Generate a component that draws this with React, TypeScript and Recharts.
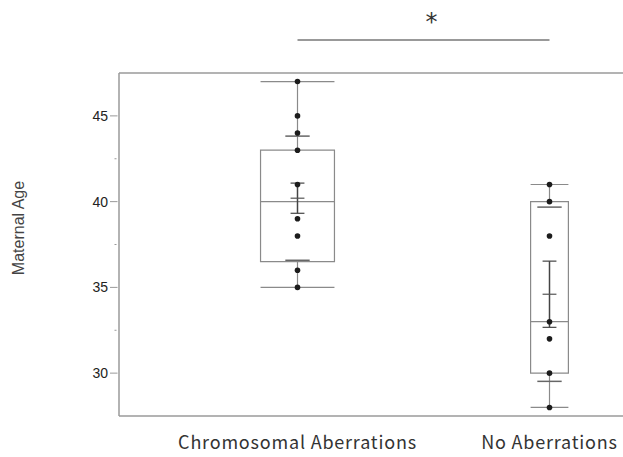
import {
  ComposedChart,
  XAxis,
  YAxis,
  Scatter,
  ReferenceArea,
  ReferenceLine,
  Label,
} from "recharts";

const groups = ["Chromosomal Aberrations", "No Aberrations"];
const groupCounts = [17, 7];

const minVals = [35, 28];
const q1Vals = [36.5, 30];
const medianVals = [40, 33];
const q3Vals = [43, 40];
const maxVals = [47, 41];
const meanVals = [40.2, 34.6];
const sdVals = [3.62, 5.08];
const seVals = [0.88, 1.93];

const chromosomalAges = [47, 45, 44, 43, 41, 39, 38, 36, 35];
const noAberrationAges = [41, 40, 38, 33, 32, 30, 28];

const yTicks = [30, 32.5, 35, 37.5, 40, 42.5, 45];
const majorTicks = [30, 35, 40, 45];

const totalCount = groupCounts.reduce((a, b) => a + b, 0);
// JMP-style: each group gets a band proportional to its count
const centers = groupCounts.map(
  (n, i) => groupCounts.slice(0, i).reduce((a, b) => a + b, 0) + n / 2
);

const boxHalf = [1.76, 0.9];
const sdHalf = 0.58;
const meanHalf = 0.33;

const pointSets = [chromosomalAges, noAberrationAges].map((vals, i) =>
  vals.map((v) => ({ x: centers[i], y: v }))
);

const boxStroke = "#8a8a8a";
const axisStroke = "#9a9a9a";

function YTick(props: any) {
  const { x, y, payload } = props;
  const major = majorTicks.includes(payload.value);
  return (
    <g>
      <line
        x1={major ? x - 1 : x + 3.5}
        x2={major ? x + 6.5 : x + 5.5}
        y1={y}
        y2={y}
        stroke="#999"
        strokeWidth={1}
      />
      {major && (
        <text
          x={x - 3}
          y={y}
          dy={5}
          textAnchor="end"
          fontFamily="'Liberation Sans', Arial, sans-serif"
          fontSize={14}
          fill="#222"
        >
          {payload.value}
        </text>
      )}
    </g>
  );
}

function Dot(props: any) {
  const { cx, cy } = props;
  return <circle cx={cx} cy={cy} r={2.8} fill="#1c1c1c" />;
}

function seg(x1: number, y1: number, x2: number, y2: number) {
  return [
    { x: x1, y: y1 },
    { x: x2, y: y2 },
  ];
}

export default function App() {
  return (
    <div
      style={{
        position: "fixed",
        top: 0,
        left: 0,
        width: 623,
        height: 457,
        overflow: "hidden",
        background: "#fff",
      }}
    >
      <ComposedChart
        width={623}
        height={457}
        margin={{ top: 73, right: 0, bottom: 0, left: 59 }}
      >
        <XAxis
          type="number"
          dataKey="x"
          domain={[0, totalCount]}
          ticks={centers}
          tickFormatter={(v: number) => groups[centers.indexOf(v)] ?? ""}
          allowDataOverflow
          height={41}
          tickLine={false}
          tickSize={0}
          tickMargin={20}
          axisLine={{ stroke: axisStroke, strokeWidth: 1.5 }}
          tick={{
            fontFamily: "'Noto Sans CJK JP', sans-serif",
            fontSize: 18,
            letterSpacing: 0.8,
            fill: "#333",
          }}
        />
        <YAxis
          type="number"
          dataKey="y"
          domain={[27.5, 47.5]}
          ticks={yTicks}
          allowDataOverflow
          width={60}
          tickLine={false}
          tickSize={8}
          tickMargin={0}
          axisLine={{ stroke: axisStroke, strokeWidth: 1.5 }}
          tick={<YTick />}
        >
          <Label
            content={() => (
              <text
                x={18}
                y={228}
                transform="rotate(-90 18 228)"
                textAnchor="middle"
                dominantBaseline="central"
                fontFamily="'Liberation Sans', Arial, sans-serif"
                fontSize={16}
                fill="#444"
              >
                Maternal Age
              </text>
            )}
          />
        </YAxis>

        <ReferenceLine y={47.5} stroke={axisStroke} strokeWidth={1.5} />

        {centers.map((c, i) => (
          <ReferenceArea
            key={`box-${i}`}
            x1={c - boxHalf[i]}
            x2={c + boxHalf[i]}
            y1={q1Vals[i]}
            y2={q3Vals[i]}
            fill="none"
            fillOpacity={0}
            stroke={boxStroke}
            strokeWidth={1.2}
          />
        ))}
        {centers.map((c, i) => (
          <g key={`lines-${i}`}>
            <ReferenceLine
              segment={seg(c - boxHalf[i], medianVals[i], c + boxHalf[i], medianVals[i])}
              stroke={boxStroke}
              strokeWidth={1.2}
            />
            <ReferenceLine
              segment={seg(c, q3Vals[i], c, maxVals[i])}
              stroke={boxStroke}
              strokeWidth={1.2}
            />
            <ReferenceLine
              segment={seg(c, minVals[i], c, q1Vals[i])}
              stroke={boxStroke}
              strokeWidth={1.2}
            />
            <ReferenceLine
              segment={seg(c - boxHalf[i], maxVals[i], c + boxHalf[i], maxVals[i])}
              stroke={boxStroke}
              strokeWidth={1.2}
            />
            <ReferenceLine
              segment={seg(c - boxHalf[i], minVals[i], c + boxHalf[i], minVals[i])}
              stroke={boxStroke}
              strokeWidth={1.2}
            />
            <ReferenceLine
              segment={seg(c - sdHalf, meanVals[i] + sdVals[i], c + sdHalf, meanVals[i] + sdVals[i])}
              stroke="#666"
              strokeWidth={1.5}
            />
            <ReferenceLine
              segment={seg(c - sdHalf, meanVals[i] - sdVals[i], c + sdHalf, meanVals[i] - sdVals[i])}
              stroke="#666"
              strokeWidth={1.5}
            />
            <ReferenceLine
              segment={seg(c, meanVals[i] - seVals[i], c, meanVals[i] + seVals[i])}
              stroke="#444"
              strokeWidth={1.5}
            />
            <ReferenceLine
              segment={seg(c - meanHalf, meanVals[i] + seVals[i], c + meanHalf, meanVals[i] + seVals[i])}
              stroke="#444"
              strokeWidth={1.2}
            />
            <ReferenceLine
              segment={seg(c - meanHalf, meanVals[i] - seVals[i], c + meanHalf, meanVals[i] - seVals[i])}
              stroke="#444"
              strokeWidth={1.2}
            />
            <ReferenceLine
              segment={seg(c - meanHalf, meanVals[i], c + meanHalf, meanVals[i])}
              stroke="#555"
              strokeWidth={1.2}
            />
          </g>
        ))}

        <ReferenceLine
          segment={seg(centers[0], 49.42, centers[1], 49.42)}
          stroke="#777"
          strokeWidth={1.5}
          ifOverflow="visible"
        >
          <Label
            value="*"
            position="top"
            offset={10}
            dx={8}
            fontFamily="'DejaVu Sans', sans-serif"
            fontSize={24}
            fill="#333"
          />
        </ReferenceLine>

        {pointSets.map((pts, i) => (
          <Scatter
            key={`pts-${i}`}
            data={pts}
            dataKey="y"
            shape={<Dot />}
            isAnimationActive={false}
          />
        ))}
      </ComposedChart>
    </div>
  );
}
